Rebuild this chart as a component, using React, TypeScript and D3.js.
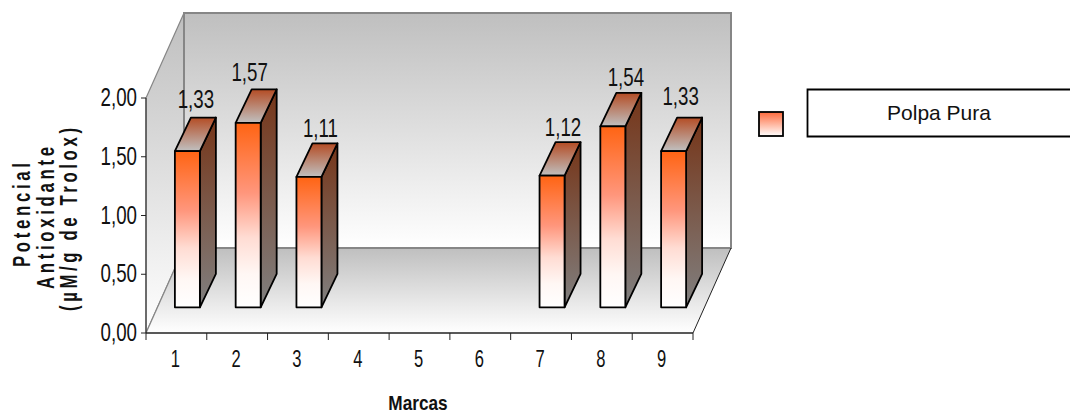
import React from "react";
import * as d3 from "d3";

const categories = ["1", "2", "3", "4", "5", "6", "7", "8", "9"];
const values: (number | null)[] = [1.33, 1.57, 1.11, null, null, null, 1.12, 1.54, 1.33];
const yTicks = [0, 0.5, 1, 1.5, 2];
const seriesName = "Polpa Pura";
const yTitleLines = ["Potencial", "Antioxidante", "(µM/g de Trolox)"];
const xTitle = "Marcas";

const WIDTH = 1070;
const HEIGHT = 415;
const SANS = "'Liberation Sans', Arial, sans-serif";

// Oblique projection: the back of the chart box is shifted by this offset.
const DEPTH_X = 38;
const DEPTH_Y = -85;
// Bars sit part of the way into the box and have their own, smaller depth.
const BAR_SHIFT_X = 11;
const BAR_SHIFT_Y = -25.7;
const BAR_DX = 16;
const BAR_DY = -33.5;
const BAR_WIDTH = 25;

// Hand placement of each value label, relative to the bar centre and its back top edge.
const labelNudgeX = [8.5, 1.5, 11.5, 0, 0, 0, 11, 13, 7];
const labelNudgeY = [-10, -8, -6, 0, 0, 0, -6, -7, -13];

// Placement of the three rotated title lines: baseline x, lower end, drawn length.
const titleBaselineX = [30, 54, 77];
const titleStartY = [267, 289, 311];
const titleLength = [104, 142, 183];

const fmt = (v: number) => v.toFixed(2).replace(".", ",");
const poly = (pts: [number, number][]) => pts.map((p) => p.join(",")).join(" ");

// Horizontally condensed label, standing in for a narrow typeface.
function Narrow({ x, y, size, anchor, bold, squeeze = 0.72, children }: any) {
  return (
    <text
      transform={`translate(${x},${y}) scale(${squeeze},1)`}
      textAnchor={anchor}
      fontFamily={SANS}
      fontSize={size}
      fontWeight={bold ? "bold" : "normal"}
      fill="#111"
    >
      {children}
    </text>
  );
}

export default function App() {
  const x = d3.scaleBand<string>().domain(categories).range([146, 693]);
  const y = d3.scaleLinear().domain([0, 2]).range([333, 98]);
  const [x0, x1] = x.range();
  const y0 = y(0);
  const yTop = y(2);
  const barCentre = (c: string) => x(c)! + x.bandwidth() / 2 + BAR_SHIFT_X;
  const barBase = y0 + BAR_SHIFT_Y;

  return (
    <svg
      width={WIDTH}
      height={HEIGHT}
      style={{ position: "absolute", left: 0, top: 0, background: "#fff" }}
    >
      <defs>
        <linearGradient id="wall" x1="0" y1="0" x2="0" y2="1">
          <stop offset="0" stopColor="#bfbfbf" />
          <stop offset="1" stopColor="#ffffff" />
        </linearGradient>
        <linearGradient id="front" x1="0" y1="0" x2="0" y2="1">
          <stop offset="0" stopColor="#ff6413" />
          <stop offset="0.38" stopColor="#ff967c" />
          <stop offset="0.62" stopColor="#ffdcd3" />
          <stop offset="0.82" stopColor="#fff7f4" />
          <stop offset="1" stopColor="#ffffff" />
        </linearGradient>
        <linearGradient id="swatch" x1="0" y1="0" x2="0" y2="1">
          <stop offset="0" stopColor="#ff6a3c" />
          <stop offset="1" stopColor="#ffffff" />
        </linearGradient>
        <linearGradient id="side" x1="0" y1="0" x2="0" y2="1">
          <stop offset="0" stopColor="#763518" />
          <stop offset="1" stopColor="#808080" />
        </linearGradient>
        <linearGradient id="cap" x1="0" y1="0" x2="0" y2="1">
          <stop offset="0" stopColor="#b44c24" />
          <stop offset="1" stopColor="#c0c0c0" />
        </linearGradient>
      </defs>

      {/* Left wall, back wall and floor of the box */}
      <polygon
        points={poly([[x0, yTop], [x0 + DEPTH_X, yTop + DEPTH_Y], [x0 + DEPTH_X, y0 + DEPTH_Y], [x0, y0]])}
        fill="url(#wall)"
        stroke="#868686"
        strokeWidth={1.2}
      />
      <rect
        x={x0 + DEPTH_X}
        y={yTop + DEPTH_Y}
        width={x1 - x0}
        height={y0 - yTop}
        fill="url(#wall)"
        stroke="#868686"
        strokeWidth={2}
      />
      <polygon
        points={poly([[x0, y0], [x0 + DEPTH_X, y0 + DEPTH_Y], [x1 + DEPTH_X, y0 + DEPTH_Y], [x1, y0]])}
        fill="url(#wall)"
      />
      <line x1={x0} y1={y0} x2={x0 + DEPTH_X} y2={y0 + DEPTH_Y} stroke="#868686" strokeWidth={1.2} />
      <line x1={x0 + DEPTH_X} y1={y0 + DEPTH_Y} x2={x1 + DEPTH_X} y2={y0 + DEPTH_Y} stroke="#868686" strokeWidth={2} />
      <line x1={x1} y1={y0} x2={x1 + DEPTH_X} y2={y0 + DEPTH_Y} stroke="#222" strokeWidth={1} />

      {/* Bars */}
      {categories.map((c, i) => {
        const v = values[i];
        if (v == null) return null;
        const left = barCentre(c) - BAR_WIDTH / 2;
        const right = left + BAR_WIDTH;
        const top = barBase - (y0 - y(v));
        return (
          <g key={c} stroke="#000" strokeWidth={1.8} strokeLinejoin="round">
            <polygon
              points={poly([[right, top], [right + BAR_DX, top + BAR_DY], [right + BAR_DX, barBase + BAR_DY], [right, barBase]])}
              fill="url(#side)"
            />
            <polygon
              points={poly([[left, top], [left + BAR_DX, top + BAR_DY], [right + BAR_DX, top + BAR_DY], [right, top]])}
              fill="url(#cap)"
            />
            <rect x={left} y={top} width={BAR_WIDTH} height={barBase - top} fill="url(#front)" />
          </g>
        );
      })}

      {/* Value labels */}
      {categories.map((c, i) => {
        const v = values[i];
        if (v == null) return null;
        const top = barBase - (y0 - y(v));
        return (
          <Narrow key={c} x={barCentre(c) + labelNudgeX[i]} y={top + BAR_DY + labelNudgeY[i]} size={26} anchor="middle">
            {fmt(v)}
          </Narrow>
        );
      })}

      {/* Value axis */}
      <line x1={x0} y1={yTop} x2={x0} y2={y0} stroke="#222" strokeWidth={1} />
      {yTicks.map((t) => (
        <g key={t}>
          <line x1={x0 - 5} x2={x0} y1={y(t)} y2={y(t)} stroke="#222" strokeWidth={1} />
          <Narrow x={137} y={y(t) + 8} size={26} anchor="end">
            {fmt(t)}
          </Narrow>
        </g>
      ))}

      {/* Category axis */}
      <line x1={x0} x2={x1} y1={y0} y2={y0} stroke="#222" strokeWidth={1.5} />
      {d3.range(categories.length + 1).map((i) => {
        const px = x0 + i * x.bandwidth();
        return <line key={i} x1={px} x2={px} y1={y0} y2={y0 + 7} stroke="#222" strokeWidth={1} />;
      })}
      {categories.map((c) => (
        <Narrow key={c} x={x(c)! + x.bandwidth() / 2 - 1} y={367} size={23} anchor="middle">
          {c}
        </Narrow>
      ))}

      {/* Axis titles */}
      <Narrow x={418} y={410} size={21} anchor="middle" bold squeeze={0.82}>
        {xTitle}
      </Narrow>
      {yTitleLines.map((line, i) => (
        <text
          key={line}
          transform={`translate(${titleBaselineX[i]},${titleStartY[i]}) rotate(-90) scale(0.7,1)`}
          textLength={titleLength[i] / 0.7}
          lengthAdjust="spacing"
          fontFamily={SANS}
          fontSize={24}
          fontWeight="bold"
          fill="#111"
        >
          {line}
        </text>
      ))}

      {/* Legend */}
      <rect x={759} y={112} width={24} height={24} fill="url(#swatch)" stroke="#000" strokeWidth={1.8} />
      <path d="M1070,89.5 H807.5 V136.5 H1070" fill="#fff" stroke="#000" strokeWidth={1.8} />
      <text x={939} y={120} textAnchor="middle" fontFamily={SANS} fontSize={21} fill="#111">
        {seriesName}
      </text>
    </svg>
  );
}
